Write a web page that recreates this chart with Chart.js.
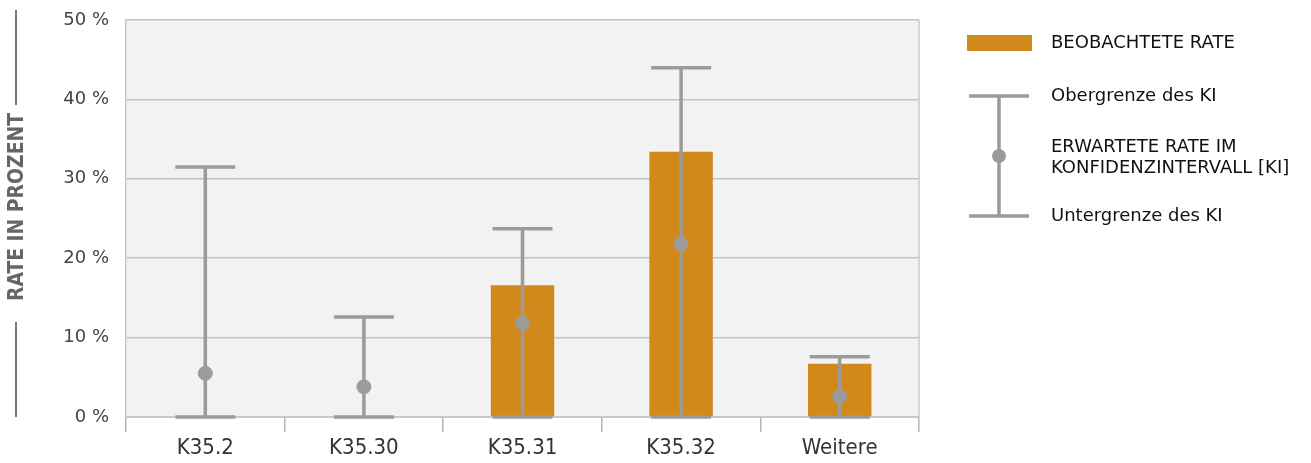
<!DOCTYPE html>
<html>
<head>
<meta charset="utf-8">
<script src="https://cdn.jsdelivr.net/npm/chart.js@4"></script>
<style>
  html, body { margin: 0; padding: 0; background: #fff; }
  #wrap { width: 1311px; height: 463px; position: relative; }
</style>
</head>
<body>
<div id="wrap"><canvas id="myChart"></canvas></div>
<script>
// chart values
const categories = ['K35.2', 'K35.30', 'K35.31', 'K35.32', 'Weitere'];
const observedRate = [0, 0, 16.6, 33.4, 6.7];
const expectedRate = [5.5, 3.8, 11.8, 21.8, 2.6];
const ciUpper = [31.5, 12.6, 23.7, 44.0, 7.6];
const ciLower = [0, 0, 0, 0, 0];
const yTicks = [0, 10, 20, 30, 40, 50];

const orange = '#d0891a';
const errGrey = '#9b9b9b';
const condensed = '"DejaVu Sans Condensed", "DejaVu Sans", sans-serif';

const ctx = document.getElementById('myChart');

// grey plot background
const plotBackground = {
    id: 'plotBackground',
    beforeDraw(chart) {
        const a = chart.chartArea;
        const c = chart.ctx;
        c.save();
        c.fillStyle = '#f2f2f2';
        c.fillRect(a.left, a.top, a.right - a.left, a.bottom - a.top);
        c.strokeStyle = '#c8c8c8';
        c.lineWidth = 1.5;
        c.beginPath();
        c.moveTo(a.right, a.top);
        c.lineTo(a.right, a.bottom);
        c.stroke();
        c.restore();
    }
};

// error bars (whisker + caps) drawn right after the bars, under the dots
const errorBars = {
    id: 'errorBars',
    afterDatasetDraw(chart, args) {
        if (args.index !== 1) return;
        const c = chart.ctx;
        const x = chart.scales.x;
        const y = chart.scales.y;
        c.save();
        c.strokeStyle = errGrey;
        c.lineWidth = 3.5;
        categories.forEach((cat, i) => {
            const px = x.getPixelForValue(i);
            const top = y.getPixelForValue(ciUpper[i]);
            const bot = y.getPixelForValue(ciLower[i]);
            c.beginPath();
            c.moveTo(px, top);
            c.lineTo(px, bot);
            c.moveTo(px - 30, top);
            c.lineTo(px + 30, top);
            c.moveTo(px - 30, bot);
            c.lineTo(px + 30, bot);
            c.stroke();
        });
        c.restore();
    }
};

function narrowText(c, text, x, y, scaleX) {
    c.save();
    c.translate(x, y);
    c.scale(scaleX, 1);
    c.fillText(text, 0, 0);
    c.restore();
}

// axis title with lines above and below, plus the legend
const extras = {
    id: 'extras',
    afterDraw(chart) {
        const c = chart.ctx;

        // y axis title
        c.save();
        c.strokeStyle = '#777';
        c.lineWidth = 2;
        c.beginPath();
        c.moveTo(16, 10); c.lineTo(16, 105);
        c.moveTo(16, 322); c.lineTo(16, 417);
        c.stroke();
        c.translate(17, 207);
        c.rotate(-Math.PI / 2);
        c.fillStyle = '#666';
        c.font = '600 22px ' + condensed;
        c.textAlign = 'center';
        c.textBaseline = 'middle';
        const title = 'RATE IN PROZENT';
        const w = c.measureText(title).width;
        narrowText(c, title, 0, 0, 188 / w);
        c.restore();

        // legend
        c.save();
        c.fillStyle = orange;
        c.fillRect(967, 35, 65, 16);
        c.strokeStyle = errGrey;
        c.lineWidth = 3.5;
        c.beginPath();
        c.moveTo(999, 96); c.lineTo(999, 216);
        c.moveTo(969, 96); c.lineTo(1029, 96);
        c.moveTo(969, 216); c.lineTo(1029, 216);
        c.stroke();
        c.fillStyle = errGrey;
        c.beginPath();
        c.arc(999, 156, 7, 0, Math.PI * 2);
        c.fill();
        c.fillStyle = '#111';
        c.font = '18px "DejaVu Sans", sans-serif';
        c.textBaseline = 'middle';
        c.fillText('BEOBACHTETE RATE', 1051, 43);
        c.fillText('Obergrenze des KI', 1051, 96);
        c.fillText('ERWARTETE RATE IM', 1051, 147);
        c.fillText('KONFIDENZINTERVALL [KI]', 1051, 168);
        c.fillText('Untergrenze des KI', 1051, 216);
        c.restore();
    }
};

let chart = new Chart(ctx, {
    data: {
        labels: categories,
        datasets: [{
            type: 'scatter',
            label: 'ERWARTETE RATE IM KONFIDENZINTERVALL [KI]',
            data: expectedRate.map((v, i) => ({ x: i, y: v })),
            backgroundColor: errGrey,
            borderColor: errGrey,
            pointRadius: 7,
            pointHoverRadius: 7,
            showLine: false,
            order: 0
        }, {
            type: 'bar',
            label: 'BEOBACHTETE RATE',
            data: observedRate,
            backgroundColor: orange,
            barPercentage: 0.4,
            categoryPercentage: 1,
            order: 1
        }]
    },
    options: {
        responsive: true,
        maintainAspectRatio: false,
        animation: false,
        layout: { padding: { left: 0, right: 392, top: 20, bottom: 0 } },
        plugins: {
            legend: { display: false },
            tooltip: { enabled: false }
        },
        scales: {
            x: {
                type: 'category',
                offset: true,
                afterFit(scale) { scale.height = 46; scale.paddingLeft = 0; scale.paddingRight = 0; },
                grid: {
                    offset: true,
                    drawOnChartArea: false,
                    drawTicks: true,
                    tickLength: 15,
                    color: '#b5b5b5',
                    lineWidth: 1.5
                },
                border: { color: '#c8c8c8', width: 2 },
                ticks: {
                    color: '#333',
                    font: { family: condensed, size: 22 },
                    padding: 3,
                    maxRotation: 0
                }
            },
            y: {
                min: 0,
                max: 50,
                afterFit(scale) { scale.width = 126; scale.paddingTop = 0; scale.paddingBottom = 0; },
                afterBuildTicks(scale) { scale.ticks = yTicks.map(v => ({ value: v })); },
                grid: {
                    color: '#c4c4c4',
                    lineWidth: 1.5,
                    drawTicks: false
                },
                border: { color: '#c8c8c8', width: 1.5 },
                ticks: {
                    color: '#444',
                    font: { family: '"DejaVu Sans", sans-serif', size: 18 },
                    padding: 17,
                    callback: v => v + ' %'
                }
            }
        }
    },
    plugins: [plotBackground, errorBars, extras]
});
</script>
</body>
</html>
